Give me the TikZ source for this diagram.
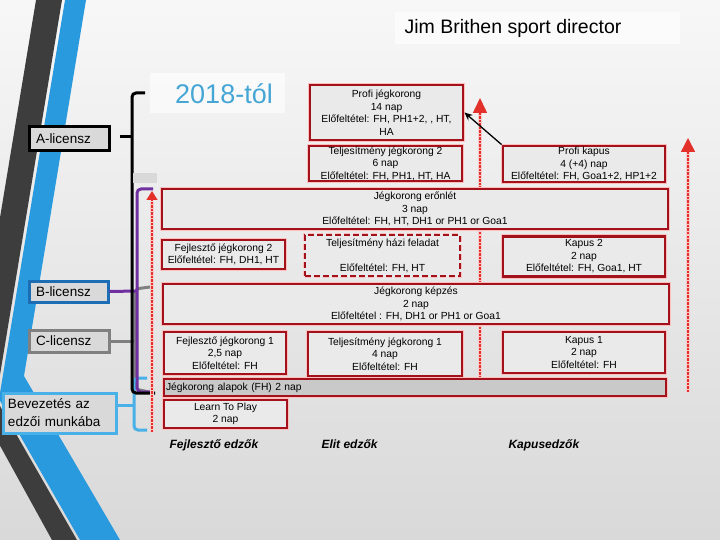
\documentclass[tikz,border=0pt]{standalone}
\usepackage{fontspec}
\setmainfont{Liberation Sans}
\usetikzlibrary{arrows.meta}
\definecolor{boxred}{HTML}{A3121B}
\definecolor{trackred}{HTML}{E3302A}
\definecolor{stripegray}{HTML}{3D3D3D}
\definecolor{stripeblue}{HTML}{2A9ADE}
\definecolor{lblue}{HTML}{4AB0E8}
\definecolor{bblue}{HTML}{1C6DB3}
\definecolor{purp}{HTML}{7030A0}
\definecolor{yeartxt}{HTML}{45A6D6}
\definecolor{boxfill}{HTML}{EAEAEA}
\definecolor{licfill}{HTML}{D9D9D9}
\definecolor{basefill}{HTML}{C9C9C9}
\begin{document}
\begin{tikzpicture}[x=1pt,y=-1pt,
  redbox/.style={draw=boxred,line width=2.9pt,fill=boxfill,inner sep=0pt,align=center,
    preaction={draw=red!25,line width=4.6pt},
    font=\fontsize{10.3}{12.5}\selectfont},
  licbox/.style={line width=3pt,fill=licfill,inner sep=0pt,inner xsep=7pt,align=left,
    font=\fontsize{13.5}{18}\selectfont},
  bracketline/.style={line width=3pt,rounded corners=4pt},
  track/.style={draw=trackred,line width=1.5pt,dash pattern=on 2.5pt off 1pt,
    preaction={draw=trackred!25,line width=4pt,solid,-,shorten >=10pt}},
  groupname/.style={font=\fontsize{12}{14}\bfseries\itshape\selectfont,anchor=base west}]
  \useasboundingbox (0,0) rectangle (720,540);
  \shade[top color=black!3,bottom color=black!15] (0,0) rectangle (720,540);
  \begin{scope}
    \clip (0,0) rectangle (720,540);
    \fill[stripegray] (36,0) -- (62,0) -- (-4,399) -- (77,540) -- (52,540) -- (-29,393) -- cycle;
    \fill[stripeblue] (65,0) -- (86,0) -- (24,376) -- (120,540) -- (80,540) -- (-1,399) -- cycle;
  \end{scope}
  % headings
  \fill[white,opacity=0.6] (395,12) rectangle (680,44);
  \node[font=\fontsize{19.5}{22}\selectfont] (title) at (513,28) {Jim Brithen sport director};
  \fill[white,opacity=0.6] (150,73) rectangle (285,113);
  \node[font=\fontsize{27}{30}\selectfont,text=yeartxt] (year) at (224,94) {2018-tól};
  % licence levels
  \node[licbox,draw=black,minimum width=80pt,minimum height=24pt,text width=66pt] (alic) at (69,139) {A-licensz};
  \node[licbox,draw=bblue,minimum width=79pt,minimum height=21pt,text width=65pt] (blic) at (68.5,291.5) {B-licensz};
  \node[licbox,draw=gray,minimum width=80pt,minimum height=22pt,text width=66pt] (clic) at (69,341) {C-licensz};
  \node[licbox,draw=lblue,inner xsep=5pt,minimum width=113pt,minimum height=40pt,text width=103pt] (bevez) at (59.5,413) {Bevezetés az\\edzői munkába};
  % brackets
  \draw[bracketline,gray] (150,287) -- (135,289) -- (135,389) -- (154,393);
  \draw[line width=3pt,gray] (clic.east) -- (134,341);
  \draw[bracketline,lblue] (147,378) -- (134,378) -- (134,430) -- (147,430);
  \draw[line width=3pt,lblue] ([yshift=8pt]bevez.east) -- (134,405);
  \draw[bracketline,purp] (153,189) -- (137,189) -- (137,392) -- (153,392);
  \draw[line width=3pt,purp] (blic.east) -- (137,291);
  \draw[bracketline,black] (145,93) -- (132,93) -- (132,393) -- (155,393);
  \coordinate (atick) at (120,137);
  \draw[line width=3pt] (atick) -- (132,137);
  \fill[black!15] (133,173) rectangle (157,183);
  % progression arrows
  \coordinate (devbot) at (152,432);
  \coordinate (devtop) at (152,191);
  \coordinate (elitbot) at (480,378);
  \coordinate (elittop) at (480,98);
  \coordinate (gkbot) at (688,392);
  \coordinate (gktop) at (688,138);
  \draw[track,-{Triangle[width=11pt,length=9pt]}] (devbot) -- (devtop);
  \draw[track,-{Triangle[width=14pt,length=15pt]}] (elitbot) -- (elittop);
  \draw[track,-{Triangle[width=14pt,length=14pt]}] (gkbot) -- (gktop);
  % courses
  \node[redbox,minimum width=153pt,minimum height=55pt] (pjk) at (386.5,112.5) {Profi jégkorong\\14 nap\\Előfeltétel: FH, PH1+2, , HT,\\HA};
  \node[redbox,minimum width=153pt,minimum height=35pt] (tjk2) at (385.5,163.5) {Teljesítmény jégkorong 2\\6 nap\\Előfeltétel: FH, PH1, HT, HA};
  \node[redbox,minimum width=162pt,minimum height=36pt] (pkapus) at (584,164) {Profi kapus\\4 (+4) nap\\Előfeltétel: FH, Goa1+2, HP1+2};
  \node[redbox,minimum width=506pt,minimum height=40pt] (eronlet) at (415,209) {Jégkorong erőnlét\\3 nap\\Előfeltétel: FH, HT, DH1 or PH1 or Goa1};
  \node[redbox,minimum width=123pt,minimum height=29pt] (fjk2) at (223.5,254.5) {Fejlesztő jégkorong 2\\Előfeltétel: FH, DH1, HT};
  \node[redbox,dash pattern=on 6pt off 3pt,minimum width=155pt,minimum height=41pt] (hazi) at (382.5,255.5) {Teljesítmény házi feladat\\[12.5pt]Előfeltétel: FH, HT};
  \node[redbox,minimum width=162pt,minimum height=40pt] (kapus2) at (584,256.5) {Kapus 2\\2 nap\\Előfeltétel: FH, Goa1, HT};
  \node[redbox,minimum width=506pt,minimum height=40pt] (kepzes) at (416,304) {Jégkorong képzés\\2 nap\\Előfeltétel : FH, DH1 or PH1 or Goa1};
  \node[redbox,minimum width=122pt,minimum height=42pt] (fjk1) at (225,353) {Fejlesztő jégkorong 1\\2,5 nap\\Előfeltétel: FH};
  \node[redbox,minimum width=154pt,minimum height=44pt] (tjk1) at (385,354) {Teljesítmény jégkorong 1\\4 nap\\Előfeltétel: FH};
  \node[redbox,minimum width=162pt,minimum height=41pt] (kapus1) at (584,352.5) {Kapus 1\\2 nap\\Előfeltétel: FH};
  \node[redbox,fill=basefill,minimum width=502pt,minimum height=17pt,text width=498pt,align=left] (alapok) at (415,387.5) {Jégkorong alapok (FH) 2 nap};
  \node[redbox,minimum width=123pt,minimum height=28pt] (ltp) at (225.5,414) {Learn To Play\\2 nap};
  \draw[line width=1.3pt,-{Stealth[length=8pt,width=7pt]}] (pkapus.north west) -- (pjk.east);
  % coach groups
  \node[groupname] (dev) at (166,448) {Fejlesztő edzők};
  \node[groupname] (elite) at (318,448) {Elit edzők};
  \node[groupname] (goalie) at (505,448) {Kapusedzők};
\end{tikzpicture}
\end{document}
